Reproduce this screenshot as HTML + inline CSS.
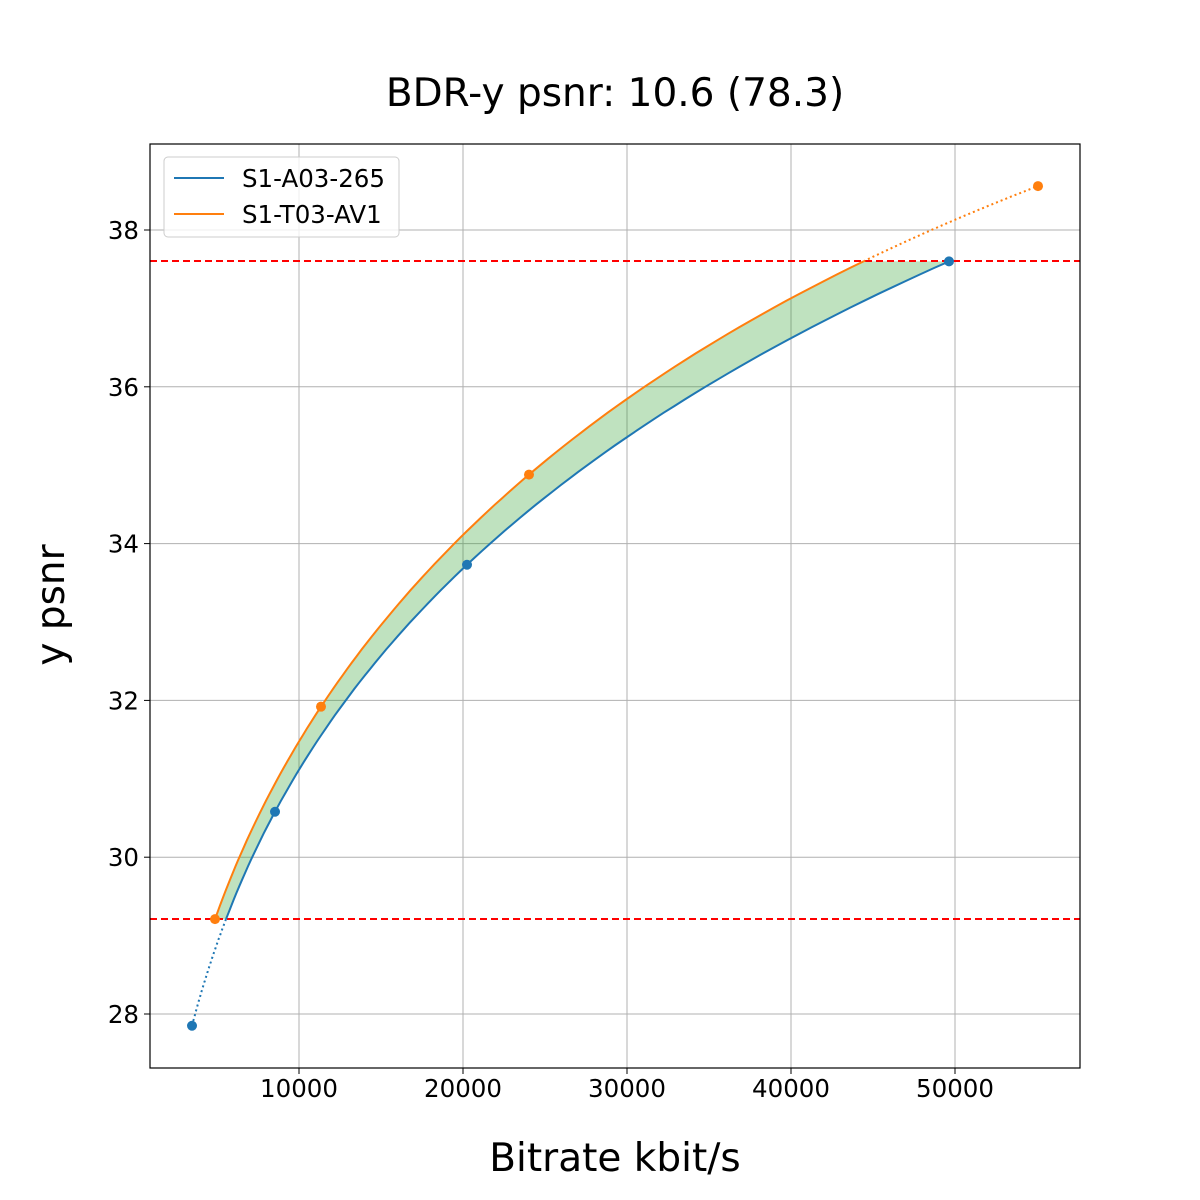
<!DOCTYPE html>
<html><head><meta charset="utf-8"><style>
html,body{margin:0;padding:0;background:#fff}
svg{display:block;font-family:"DejaVu Sans","Liberation Sans",sans-serif}
</style></head><body>
<svg id="s" width="1200" height="1200" xmlns="http://www.w3.org/2000/svg">
<rect width="1200" height="1200" fill="#fff"/>
<g id="grid" stroke="#b0b0b0" stroke-width="1"></g>
<path id="fill" fill="#2ca02c" fill-opacity="0.3" stroke="none"/>
<line x1="150" x2="1080" y1="261" y2="261" stroke="red" stroke-width="2" stroke-dasharray="7,4"/>
<line x1="150" x2="1080" y1="919" y2="919" stroke="red" stroke-width="2" stroke-dasharray="7,4"/>
<path id="bdot" fill="none" stroke="#1f77b4" stroke-width="2" stroke-dasharray="2,3"/>
<path id="odot" fill="none" stroke="#ff7f0e" stroke-width="2" stroke-dasharray="2,3"/>
<path id="bsol" fill="none" stroke="#1f77b4" stroke-width="2"/>
<path id="osol" fill="none" stroke="#ff7f0e" stroke-width="2"/>
<g id="pts"></g>
<rect x="150" y="144" width="930" height="924" fill="none" stroke="#000" stroke-width="1.2"/>
<g id="ticks" font-size="24.5" fill="#000"></g>
<text x="615" y="106" font-size="39" text-anchor="middle">BDR-y psnr: 10.6 (78.3)</text>
<text x="615" y="1171" font-size="39" text-anchor="middle">Bitrate kbit/s</text>
<text transform="translate(64,605) rotate(-90)" font-size="39" text-anchor="middle">y psnr</text>
<rect x="164" y="157" width="235" height="80" fill="#fff" fill-opacity="0.8" stroke="#ccc" rx="4"/>
<line x1="174" x2="224" y1="178" y2="178" stroke="#1f77b4" stroke-width="2"/>
<line x1="174" x2="224" y1="214" y2="214" stroke="#ff7f0e" stroke-width="2"/>
<text x="242" y="187" font-size="24.5">S1-A03-265</text>
<text x="242" y="223" font-size="24.5">S1-T03-AV1</text>
</svg>
<script>
var NS="http://www.w3.org/2000/svg";
function X(v){return 299+(v-10000)*0.0164}
function Y(v){return 1014-(v-28)*78.4}
var B=[[3476,27.85],[8537,30.58],[20244,33.73],[49634,37.6]];
var O=[[4878,29.21],[11341,31.92],[24024,34.88],[55061,38.56]];
function lag(P,p){var s=0;for(var i=0;i<4;i++){var t=Math.log(P[i][0]);for(var j=0;j<4;j++)if(j!=i)t*=(p-P[j][1])/(P[i][1]-P[j][1]);s+=t}return Math.exp(s)}
function pts(P,a,b){var r=[];for(var k=0;k<=100;k++){var p=a+(b-a)*k/100;r.push([X(lag(P,p)),Y(p)])}return r}
function d(a){return "M"+a.map(function(q){return q[0].toFixed(1)+","+q[1].toFixed(1)}).join("L")}
var lo=29.21,hi=37.6;
var bs=pts(B,lo,hi),os=pts(O,lo,hi);
document.getElementById("bsol").setAttribute("d",d(bs));
document.getElementById("osol").setAttribute("d",d(os));
document.getElementById("bdot").setAttribute("d",d(pts(B,B[0][1],lo)));
document.getElementById("odot").setAttribute("d",d(pts(O,hi,O[3][1])));
document.getElementById("fill").setAttribute("d",d(bs.concat(os.slice().reverse()))+"Z");
var g=document.getElementById("pts");
B.concat(O).forEach(function(p,i){var c=document.createElementNS(NS,"circle");c.setAttribute("cx",X(p[0]));c.setAttribute("cy",Y(p[1]));c.setAttribute("r",5);c.setAttribute("fill",i<4?"#1f77b4":"#ff7f0e");g.appendChild(c)});
var gr=document.getElementById("grid"),tk=document.getElementById("ticks");
function el(n,a,p,t){var e=document.createElementNS(NS,n);for(var k in a)e.setAttribute(k,a[k]);if(t)e.textContent=t;p.appendChild(e)}
for(var v=10000;v<=50000;v+=10000){var x=X(v);el("line",{x1:x,x2:x,y1:144,y2:1068},gr);el("line",{x1:x,x2:x,y1:1068,y2:1074,stroke:"#000"},tk);el("text",{x:x,y:1097,"text-anchor":"middle"},tk,String(v))}
for(var v=28;v<=38;v+=2){var y=Y(v);el("line",{x1:150,x2:1080,y1:y,y2:y},gr);el("line",{x1:144,x2:150,y1:y,y2:y,stroke:"#000"},tk);el("text",{x:139,y:y+9,"text-anchor":"end"},tk,String(v))}
</script>
</body></html>
